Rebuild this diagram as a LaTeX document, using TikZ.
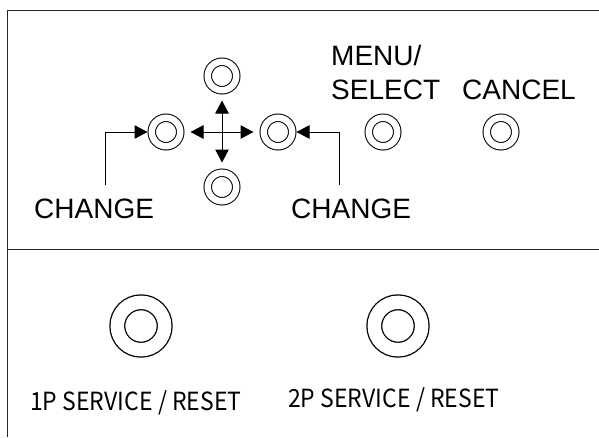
\documentclass[tikz,border=0pt]{standalone}
\usepackage{fontspec}
\setmainfont{Liberation Sans}
\newfontfamily\botfont[FakeStretch=0.92]{Noto Sans CJK KR}
\usetikzlibrary{arrows.meta}
\begin{document}
\begin{tikzpicture}[x=1pt,y=-1pt,
  frame/.style={line width=1.2pt,draw=black!85},
  sbtn/.style={circle,draw,line width=1pt,double,double distance=6.5pt,minimum size=28.5pt,inner sep=0pt,outer sep=4.25pt},
  bbtn/.style={circle,draw,line width=1.3pt,double,double distance=13.4pt,minimum size=47.4pt,inner sep=0pt,outer sep=8pt},
  lbl/.style={inner sep=0pt,anchor=base west,font=\fontsize{28}{34}\selectfont},
  blbl/.style={inner sep=0pt,anchor=base west,font=\botfont\fontsize{25}{30}\selectfont},
  arr/.style={line width=1pt,-{Triangle[length=13pt,width=13.5pt]}}]
\useasboundingbox (0,0) rectangle (599,437);
% frame
\draw[frame] (7.5,437) -- (7.5,10.5) -- (599,10.5);
\draw[frame] (7.5,249.5) -- (599,249.5);
% small buttons
\node[sbtn] (U) at (222,76) {};
\node[sbtn] (D) at (222,187) {};
\node[sbtn] (L) at (166,132) {};
\node[sbtn] (R) at (278,132) {};
\node[sbtn] (M) at (383,132) {};
\node[sbtn] (C) at (501,132) {};
\coordinate (X) at (222,132);
\draw[arr,shorten >=6pt] (X) -- (U);
\draw[arr,shorten >=6pt] (X) -- (D);
\draw[arr,shorten >=6pt] (X) -- (L);
\draw[arr,shorten >=6pt] (X) -- (R);
% labels
\node[lbl] (menu) at (331,65) {MENU/};
\node[lbl] (sel) at (331,99) {SELECT};
\node[lbl] (can) at (462,99) {CANCEL};
\node[lbl] (chl) at (34,218) {CHANGE};
\node[lbl] (chr) at (291,218) {CHANGE};
\coordinate (c1) at (105,185);
\coordinate (c2) at (339,185);
\draw[arr] (c1) |- (L);
\draw[arr] (c2) |- (R);
% big buttons
\node[bbtn] (P1) at (141,326) {};
\node[bbtn] (P2) at (398,326) {};
\node[blbl] (t1) at (30,410) {1P SERVICE / RESET};
\node[blbl] (t2) at (288,407) {2P SERVICE / RESET};
\end{tikzpicture}
\end{document}
